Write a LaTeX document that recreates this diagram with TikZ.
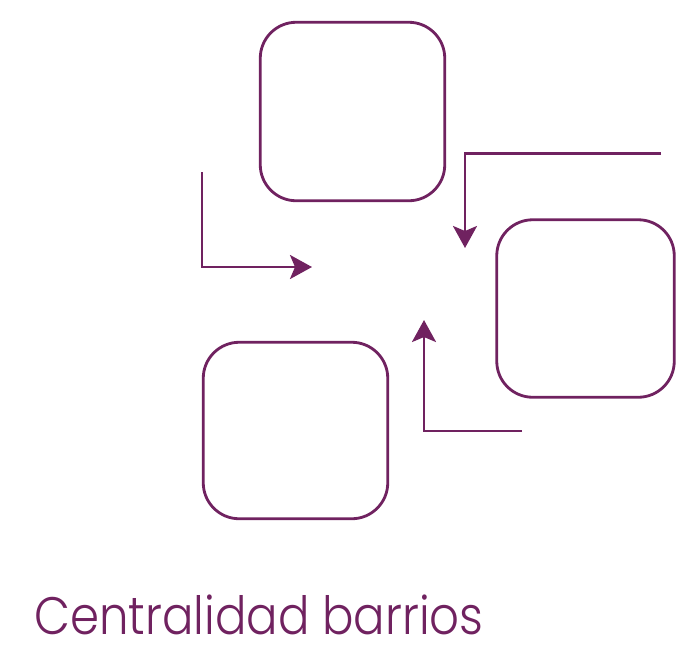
\documentclass[tikz,border=0pt]{standalone}
\usepackage{fontspec}
\setmainfont{Poppins}[UprightFont = {* Light}]
\usetikzlibrary{arrows.meta}
\definecolor{barrio}{RGB}{112, 34, 96}
\tikzset{
	caja/.style = {draw = barrio, line width = 1.6pt, rounded corners = 0.72cm, inner sep = 0pt},
	flecha/.style = {draw = barrio, line width = 1.6pt, -{Stealth[length = 0.44cm, width = 0.48cm, inset = 0.1cm]}}
}
\begin{document}
\begin{tikzpicture}
				\useasboundingbox (0, 0) rectangle (13.52, -12.98);
				\node[caja, minimum width = 3.69cm, minimum height = 3.57cm] (arriba) at (7.05, -2.23) {};
				\node[caja, minimum width = 3.55cm, minimum height = 3.55cm] (derecha) at (11.71, -6.17) {};
				\node[caja, minimum width = 3.69cm, minimum height = 3.53cm] (abajo) at (5.91, -8.61) {};
				\coordinate (izq) at (4.04, -3.44);
				\coordinate (izqfin) at (6.24, -5.34);
				\draw[flecha] (izq) |- (izqfin);
				\coordinate (der) at (13.22, -3.07);
				\coordinate (derfin) at (9.30, -4.96);
				\draw[flecha] (der) -| (derfin);
				\coordinate (bajo) at (10.44, -8.62);
				\coordinate (bajofin) at (8.48, -6.40);
				\draw[flecha] (bajo) -| (bajofin);
				\node[anchor = base west, text = barrio, font = \fontsize{30}{36}\selectfont, xscale = 0.885, inner sep = 0pt, text depth = 0pt] (titulo) at (0.68, -12.68) {Centralidad barrios};
			\end{tikzpicture}
\end{document}
